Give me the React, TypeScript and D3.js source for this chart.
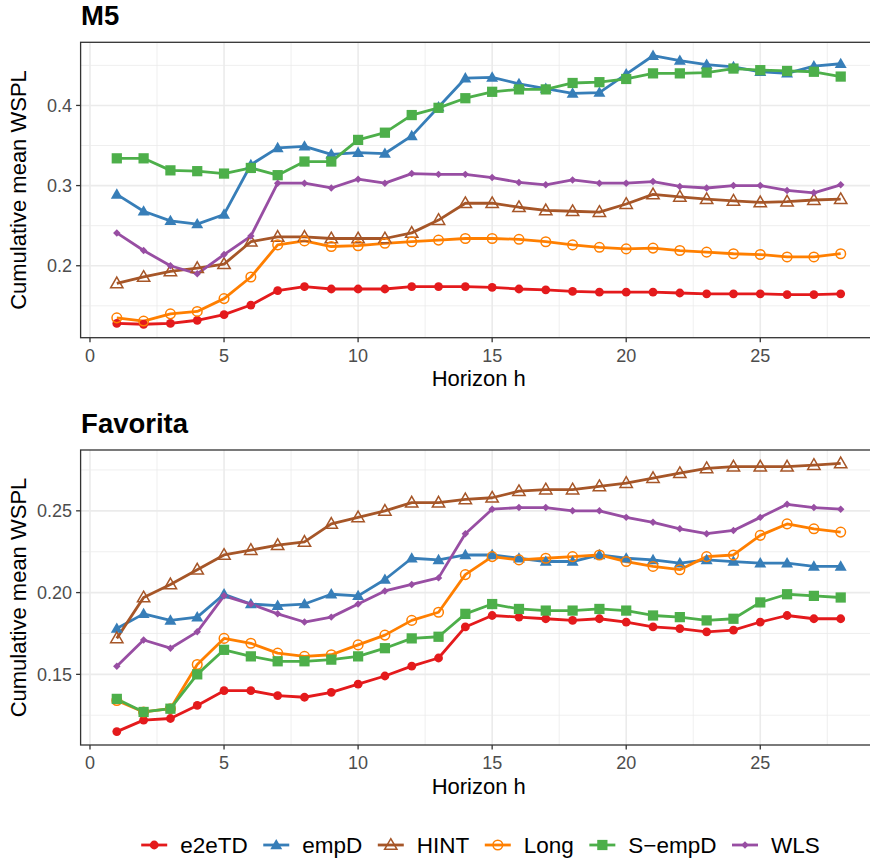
import React, { useRef, useEffect } from 'react'
import * as d3 from 'd3'

const horizons = d3.range(1, 29)
const methods = ['e2eTD', 'empD', 'HINT', 'Long', 'S\u2212empD', 'WLS']
const colours = ['#E41A1C', '#377EB8', '#A65628', '#FF7F00', '#4DAF4A', '#984EA3']
const shapes = ['dot', 'triangle', 'triangleOpen', 'circleOpen', 'square', 'diamond']

// M5 panel
const m5E2eTD = [0.128, 0.127, 0.128, 0.132, 0.139, 0.151, 0.169, 0.174, 0.171, 0.171, 0.171, 0.174, 0.174, 0.174, 0.173, 0.171, 0.170, 0.168, 0.167, 0.167, 0.167, 0.166, 0.165, 0.165, 0.165, 0.164, 0.164, 0.165]
const m5EmpD = [0.289, 0.268, 0.256, 0.252, 0.264, 0.326, 0.347, 0.349, 0.339, 0.341, 0.340, 0.362, 0.398, 0.434, 0.435, 0.427, 0.421, 0.415, 0.416, 0.439, 0.462, 0.456, 0.451, 0.448, 0.442, 0.440, 0.449, 0.452]
const m5Hint = [0.178, 0.186, 0.193, 0.197, 0.202, 0.230, 0.236, 0.236, 0.234, 0.234, 0.234, 0.241, 0.257, 0.278, 0.278, 0.273, 0.269, 0.268, 0.267, 0.277, 0.289, 0.286, 0.283, 0.281, 0.279, 0.280, 0.282, 0.283]
const m5Long = [0.135, 0.131, 0.140, 0.143, 0.159, 0.186, 0.226, 0.231, 0.224, 0.225, 0.228, 0.230, 0.232, 0.234, 0.234, 0.233, 0.230, 0.226, 0.223, 0.221, 0.222, 0.219, 0.217, 0.215, 0.214, 0.211, 0.211, 0.215]
const m5SEmpD = [0.334, 0.334, 0.319, 0.318, 0.315, 0.322, 0.313, 0.330, 0.330, 0.357, 0.366, 0.388, 0.397, 0.409, 0.417, 0.420, 0.420, 0.428, 0.429, 0.433, 0.440, 0.440, 0.441, 0.446, 0.444, 0.443, 0.442, 0.436]
const m5Wls = [0.241, 0.219, 0.200, 0.190, 0.214, 0.237, 0.303, 0.303, 0.297, 0.308, 0.303, 0.315, 0.314, 0.314, 0.310, 0.304, 0.301, 0.307, 0.303, 0.303, 0.305, 0.299, 0.297, 0.300, 0.300, 0.294, 0.291, 0.301]

// Favorita panel
const favE2eTD = [0.115, 0.122, 0.123, 0.131, 0.140, 0.140, 0.137, 0.136, 0.139, 0.144, 0.149, 0.155, 0.160, 0.179, 0.186, 0.185, 0.184, 0.183, 0.184, 0.182, 0.179, 0.178, 0.176, 0.177, 0.182, 0.186, 0.184, 0.184]
const favEmpD = [0.178, 0.187, 0.183, 0.185, 0.199, 0.193, 0.192, 0.193, 0.199, 0.198, 0.208, 0.221, 0.220, 0.223, 0.223, 0.221, 0.219, 0.219, 0.223, 0.221, 0.220, 0.218, 0.220, 0.219, 0.218, 0.218, 0.216, 0.216]
const favHint = [0.172, 0.197, 0.205, 0.214, 0.223, 0.226, 0.229, 0.231, 0.242, 0.246, 0.250, 0.255, 0.255, 0.257, 0.258, 0.262, 0.263, 0.263, 0.265, 0.267, 0.270, 0.273, 0.276, 0.277, 0.277, 0.277, 0.278, 0.279]
const favLong = [0.134, 0.127, 0.129, 0.156, 0.172, 0.169, 0.163, 0.161, 0.162, 0.168, 0.174, 0.183, 0.188, 0.211, 0.222, 0.220, 0.221, 0.222, 0.223, 0.219, 0.216, 0.214, 0.222, 0.223, 0.235, 0.242, 0.239, 0.237]
const favSEmpD = [0.135, 0.127, 0.129, 0.150, 0.165, 0.161, 0.158, 0.158, 0.159, 0.161, 0.166, 0.172, 0.173, 0.187, 0.193, 0.190, 0.189, 0.189, 0.190, 0.189, 0.186, 0.185, 0.183, 0.184, 0.194, 0.199, 0.198, 0.197]
const favWls = [0.155, 0.171, 0.166, 0.176, 0.198, 0.193, 0.187, 0.182, 0.185, 0.193, 0.201, 0.205, 0.209, 0.236, 0.251, 0.252, 0.252, 0.250, 0.250, 0.246, 0.243, 0.239, 0.236, 0.238, 0.246, 0.254, 0.252, 0.251]

const m5Series = [m5E2eTD, m5EmpD, m5Hint, m5Long, m5SEmpD, m5Wls]
const favSeries = [favE2eTD, favEmpD, favHint, favLong, favSEmpD, favWls]

const xTicks = [0, 5, 10, 15, 20, 25]
const m5YTicks = [0.2, 0.3, 0.4]
const favYTicks = [0.15, 0.2, 0.25]

const FONT = '"Liberation Sans", Arial, Helvetica, sans-serif'

function drawMarker(g: any, shape: string, cx: number, cy: number, colour: string) {
  if (shape === 'dot') {
    g.append('circle').attr('cx', cx).attr('cy', cy).attr('r', 4.4).attr('fill', colour)
  } else if (shape === 'circleOpen') {
    g.append('circle').attr('cx', cx).attr('cy', cy).attr('r', 4.8)
      .attr('fill', 'none').attr('stroke', colour).attr('stroke-width', 1.5)
  } else if (shape === 'triangle' || shape === 'triangleOpen') {
    const p = d3.symbol().type(d3.symbolTriangle).size(shape === 'triangle' ? 62 : 66)()
    const t = g.append('path').attr('d', p).attr('transform', `translate(${cx},${cy + 0.8})`)
    if (shape === 'triangle') t.attr('fill', colour)
    else t.attr('fill', 'none').attr('stroke', colour).attr('stroke-width', 1.5)
  } else if (shape === 'square') {
    const p = d3.symbol().type(d3.symbolSquare).size(105)()
    g.append('path').attr('d', p).attr('transform', `translate(${cx},${cy})`).attr('fill', colour)
  } else if (shape === 'diamond') {
    const p = d3.symbol().type(d3.symbolSquare).size(28)()
    g.append('path').attr('d', p).attr('transform', `translate(${cx},${cy}) rotate(45)`).attr('fill', colour)
  }
}

export default function App() {
  const svgRef = useRef<SVGSVGElement>(null)

  useEffect(() => {
    const width = 870
    const height = 861
    const svg = d3.select(svgRef.current)
    svg.selectAll('*').remove()
    svg.attr('width', width).attr('height', height).style('font-family', FONT)
    svg.append('rect').attr('width', width).attr('height', height).attr('fill', 'white')

    const x = d3.scaleLinear().domain([-0.35, 29.35]).range([80.6, 876.9])
    const xMinor = d3.range(-2.5, 30, 5).filter(v => v > -0.35 && v < 29.35)

    const panels = [
      { title: 'M5', series: m5Series, ticks: m5YTicks, fmt: d3.format('.1f'), top: 42.3, bottom: 337.7, titleY: 25.3 },
      { title: 'Favorita', series: favSeries, ticks: favYTicks, fmt: d3.format('.2f'), top: 450, bottom: 745, titleY: 433.3 },
    ]

    panels.forEach(p => {
      const all = p.series.flat()
      const [lo, hi] = d3.extent(all) as [number, number]
      const pad = (hi - lo) * 0.05
      const y = d3.scaleLinear().domain([lo - pad, hi + pad]).range([p.bottom, p.top])
      const step = p.ticks[1] - p.ticks[0]
      const yMinor = d3.range(p.ticks[0] - step / 2, hi + pad, step).filter(v => v > lo - pad)

      const g = svg.append('g')
      const [x0, x1] = x.range()

      // grid
      g.selectAll('.ymin').data(yMinor).join('line')
        .attr('x1', x0).attr('x2', x1).attr('y1', d => y(d)).attr('y2', d => y(d))
        .attr('stroke', '#EBEBEB').attr('stroke-width', 0.8)
      g.selectAll('.xmin').data(xMinor).join('line')
        .attr('x1', d => x(d)).attr('x2', d => x(d)).attr('y1', p.top).attr('y2', p.bottom)
        .attr('stroke', '#EBEBEB').attr('stroke-width', 0.8)
      g.selectAll('.ymaj').data(p.ticks).join('line')
        .attr('x1', x0).attr('x2', x1).attr('y1', d => y(d)).attr('y2', d => y(d))
        .attr('stroke', '#EBEBEB').attr('stroke-width', 1.6)
      g.selectAll('.xmaj').data(xTicks).join('line')
        .attr('x1', d => x(d)).attr('x2', d => x(d)).attr('y1', p.top).attr('y2', p.bottom)
        .attr('stroke', '#EBEBEB').attr('stroke-width', 1.6)

      // lines
      const line = d3.line<number>().x((d, i) => x(horizons[i])).y(d => y(d))
      p.series.forEach((s, i) => {
        g.append('path').datum(s).attr('d', line)
          .attr('fill', 'none').attr('stroke', colours[i]).attr('stroke-width', 2.8)
          .attr('stroke-linejoin', 'round')
      })
      // points
      p.series.forEach((s, i) => {
        s.forEach((v, j) => drawMarker(g, shapes[i], x(horizons[j]), y(v), colours[i]))
      })

      // border
      g.append('rect').attr('x', x0).attr('y', p.top).attr('width', x1 - x0).attr('height', p.bottom - p.top)
        .attr('fill', 'none').attr('stroke', '#333333').attr('stroke-width', 1.3)

      // axes ticks
      g.selectAll('.xt').data(xTicks).join('line')
        .attr('x1', d => x(d)).attr('x2', d => x(d)).attr('y1', p.bottom).attr('y2', p.bottom + 4.5)
        .attr('stroke', '#333333').attr('stroke-width', 1.3)
      g.selectAll('.xl').data(xTicks).join('text')
        .attr('x', d => x(d)).attr('y', p.bottom + 24).attr('text-anchor', 'middle')
        .attr('font-size', 18).attr('fill', '#4D4D4D').text(d => String(d))
      g.selectAll('.yt').data(p.ticks).join('line')
        .attr('x1', x0 - 4.5).attr('x2', x0).attr('y1', d => y(d)).attr('y2', d => y(d))
        .attr('stroke', '#333333').attr('stroke-width', 1.3)
      g.selectAll('.yl').data(p.ticks).join('text')
        .attr('x', x0 - 8.5).attr('y', d => y(d)).attr('dy', '0.36em').attr('text-anchor', 'end')
        .attr('font-size', 18).attr('fill', '#4D4D4D').text(d => p.fmt(d))

      // titles
      g.append('text').attr('x', (x0 + x1) / 2).attr('y', p.bottom + 48.5).attr('text-anchor', 'middle')
        .attr('font-size', 22).attr('fill', 'black').text('Horizon h')
      g.append('text').attr('transform', `translate(26,${(p.top + p.bottom) / 2}) rotate(-90)`)
        .attr('text-anchor', 'middle').attr('font-size', 22).attr('fill', 'black').text('Cumulative mean WSPL')
      g.append('text').attr('x', x0 + 0.5).attr('y', p.titleY).attr('font-size', 27.5).attr('font-weight', 'bold')
        .attr('fill', 'black').text(p.title)
    })

    // legend
    const legend = svg.append('g')
    const keyW = 26
    const keyGap = 13
    const itemGap = 15.5
    const ly = 845
    let cursor = 0
    const items = methods.map((m, i) => {
      const item = legend.append('g')
      const txt = item.append('text').attr('x', keyW + keyGap).attr('y', ly).attr('dy', '0.36em')
        .attr('font-size', 22.5).attr('fill', 'black').text(m)
      const w = (txt.node() as SVGTextElement).getComputedTextLength()
      item.append('line').attr('x1', 0).attr('x2', keyW).attr('y1', ly).attr('y2', ly)
        .attr('stroke', colours[i]).attr('stroke-width', 2.8)
      drawMarker(item, shapes[i], keyW / 2, ly, colours[i])
      const start = cursor
      cursor += keyW + keyGap + w + itemGap
      return { item, start }
    })
    const total = cursor - itemGap
    const left = 480.5 - total / 2
    items.forEach(({ item, start }) => item.attr('transform', `translate(${left + start},0)`))
  }, [])

  return <svg ref={svgRef} style={{ position: 'absolute', left: 0, top: 0 }} />
}
